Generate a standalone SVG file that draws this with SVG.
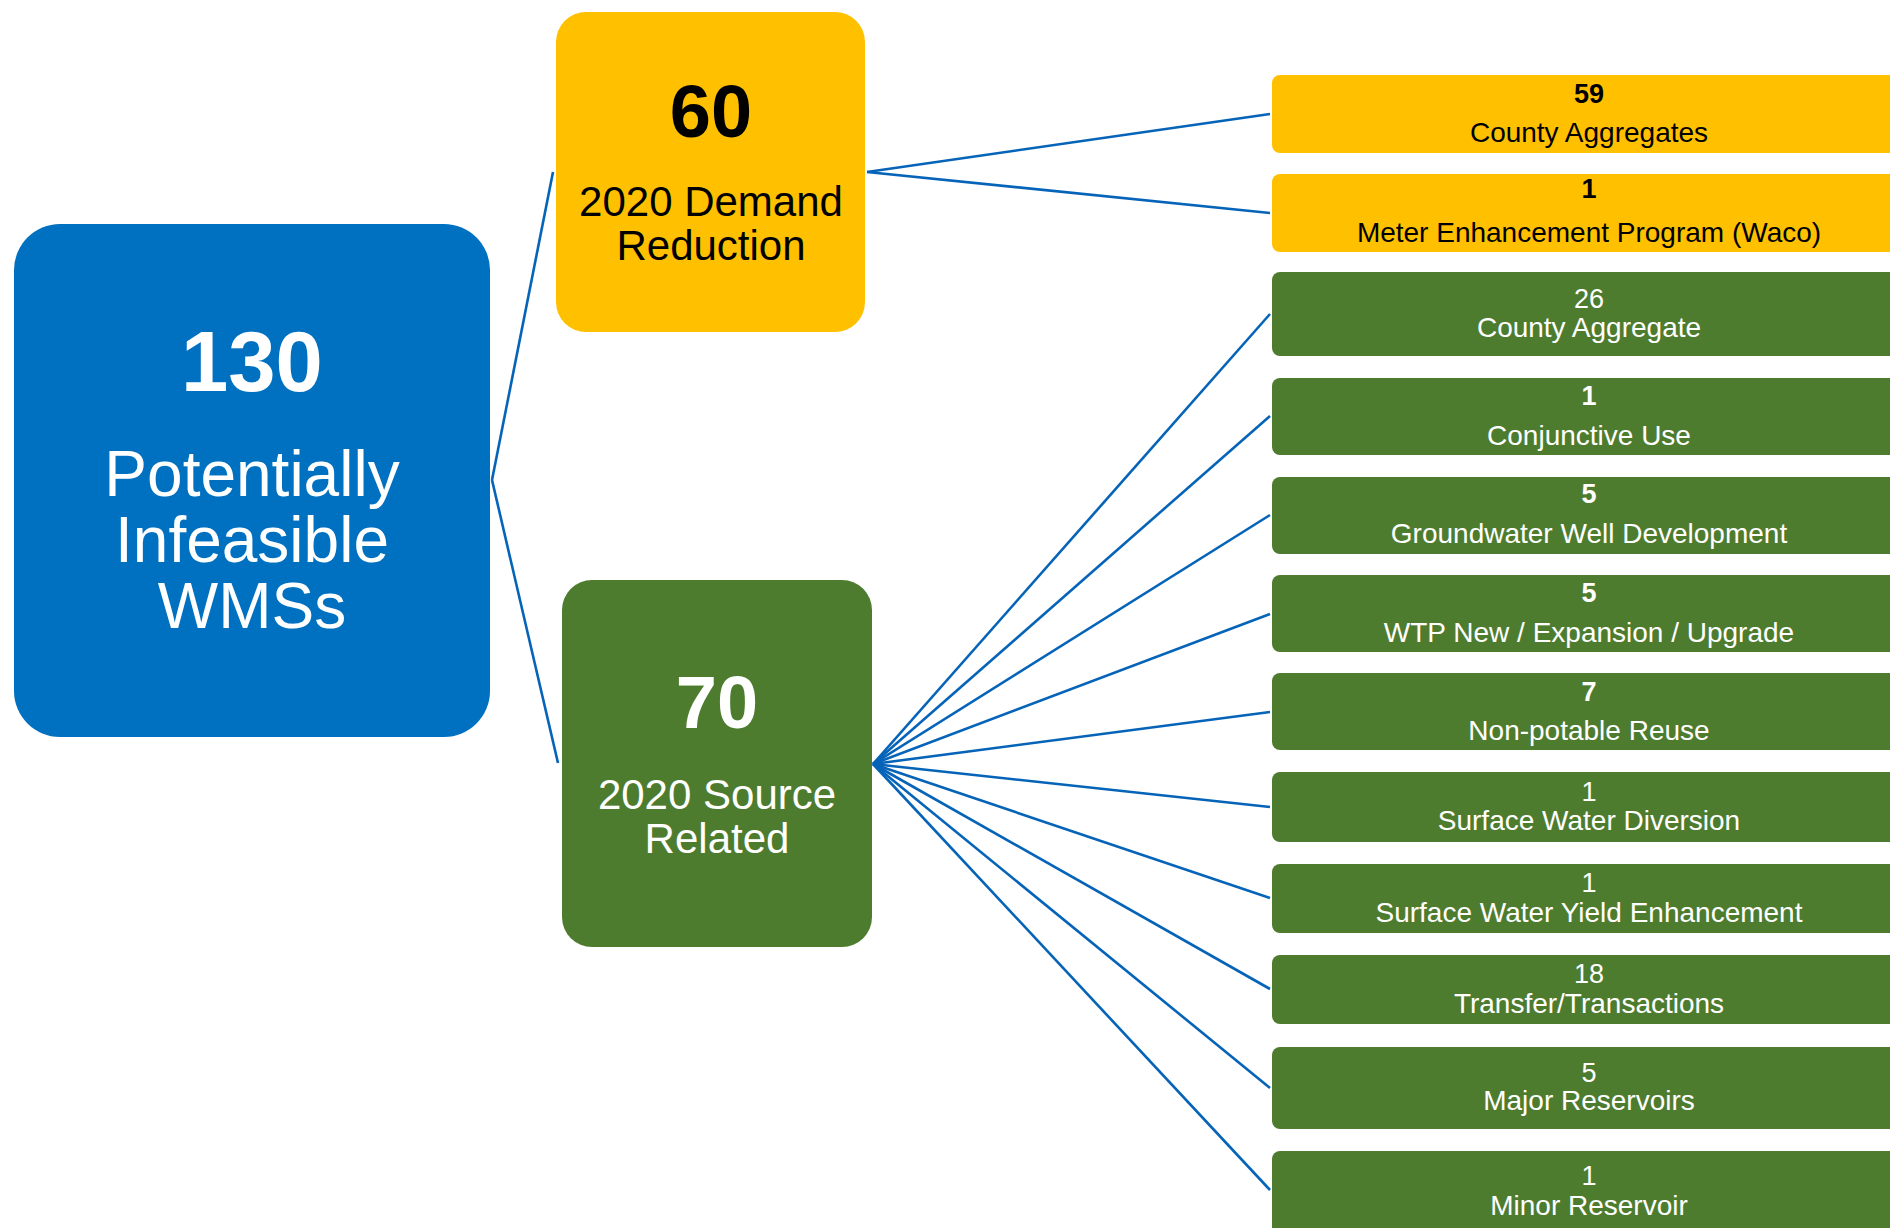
<svg xmlns="http://www.w3.org/2000/svg" width="1890" height="1228" viewBox="0 0 1890 1228">
<style>
.t{font-family:"Liberation Sans",Arial,sans-serif;text-anchor:middle}
.b{font-weight:bold}
.w{fill:#fff}
.k{fill:#000}
.y{fill:#FFC000}
.g{fill:#4E7C2F}
.conn line{stroke:#0563B8;stroke-width:2.6;fill:none}
.big{font-size:42px}
.sm{font-size:28px}
.num{font-size:27px}
</style>
<rect width="1890" height="1228" fill="#fff"/>
<g id="connectors" class="conn">
<line x1="492" y1="480" x2="553" y2="172"/>
<line x1="492" y1="480" x2="558" y2="763"/>
<line x1="867" y1="172" x2="1270" y2="114"/>
<line x1="867" y1="172" x2="1270" y2="213"/>
<line x1="873" y1="764" x2="1270" y2="314"/>
<line x1="873" y1="764" x2="1270" y2="416"/>
<line x1="873" y1="764" x2="1270" y2="515"/>
<line x1="873" y1="764" x2="1270" y2="614"/>
<line x1="873" y1="764" x2="1270" y2="712"/>
<line x1="873" y1="764" x2="1270" y2="807"/>
<line x1="873" y1="764" x2="1270" y2="898"/>
<line x1="873" y1="764" x2="1270" y2="989"/>
<line x1="873" y1="764" x2="1270" y2="1088"/>
<line x1="873" y1="764" x2="1270" y2="1190"/>
</g>
<g id="root">
<rect x="14" y="224" width="476" height="513" rx="46" fill="#0070C0"/>
<text class="t b w" x="252" y="391" font-size="85">130</text>
<text class="t w" x="252" y="496" font-size="64">Potentially</text>
<text class="t w" x="252" y="562" font-size="64">Infeasible</text>
<text class="t w" x="252" y="628" font-size="64">WMSs</text>
</g>
<g id="demand">
<rect class="y" x="556" y="12" width="309" height="320" rx="30"/>
<text class="t b k" x="711" y="137" font-size="74">60</text>
<text class="t k big" x="711" y="216">2020 Demand</text>
<text class="t k big" x="711" y="260">Reduction</text>
</g>
<g id="source">
<rect class="g" x="562" y="580" width="310" height="367" rx="30"/>
<text class="t b w" x="717" y="728" font-size="74">70</text>
<text class="t w big" x="717" y="809">2020 Source</text>
<text class="t w big" x="717" y="853">Related</text>
</g>
<g id="d1">
<rect class="y" x="1272" y="75" width="634" height="78" rx="8"/>
<text class="t b k num" x="1589" y="103">59</text>
<text class="t k sm" x="1589" y="142">County Aggregates</text>
</g>
<g id="d2">
<rect class="y" x="1272" y="174" width="634" height="78" rx="8"/>
<text class="t b k num" x="1589" y="198">1</text>
<text class="t k sm" x="1589" y="242">Meter Enhancement Program (Waco)</text>
</g>
<g id="s1">
<rect class="g" x="1272" y="272" width="634" height="84" rx="8"/>
<text class="t w num" x="1589" y="308">26</text>
<text class="t w sm" x="1589" y="337">County Aggregate</text>
</g>
<g id="s2">
<rect class="g" x="1272" y="378" width="634" height="77" rx="8"/>
<text class="t b w num" x="1589" y="405">1</text>
<text class="t w sm" x="1589" y="445">Conjunctive Use</text>
</g>
<g id="s3">
<rect class="g" x="1272" y="477" width="634" height="77" rx="8"/>
<text class="t b w num" x="1589" y="503">5</text>
<text class="t w sm" x="1589" y="543">Groundwater Well Development</text>
</g>
<g id="s4">
<rect class="g" x="1272" y="575" width="634" height="77" rx="8"/>
<text class="t b w num" x="1589" y="602">5</text>
<text class="t w sm" x="1589" y="642">WTP New / Expansion / Upgrade</text>
</g>
<g id="s5">
<rect class="g" x="1272" y="673" width="634" height="77" rx="8"/>
<text class="t b w num" x="1589" y="701">7</text>
<text class="t w sm" x="1589" y="740">Non-potable Reuse</text>
</g>
<g id="s6">
<rect class="g" x="1272" y="772" width="634" height="70" rx="8"/>
<text class="t w num" x="1589" y="801">1</text>
<text class="t w sm" x="1589" y="830">Surface Water Diversion</text>
</g>
<g id="s7">
<rect class="g" x="1272" y="864" width="634" height="69" rx="8"/>
<text class="t w num" x="1589" y="892">1</text>
<text class="t w sm" x="1589" y="922">Surface Water Yield Enhancement</text>
</g>
<g id="s8">
<rect class="g" x="1272" y="955" width="634" height="69" rx="8"/>
<text class="t w num" x="1589" y="983">18</text>
<text class="t w sm" x="1589" y="1013">Transfer/Transactions</text>
</g>
<g id="s9">
<rect class="g" x="1272" y="1047" width="634" height="82" rx="8"/>
<text class="t w num" x="1589" y="1082">5</text>
<text class="t w sm" x="1589" y="1110">Major Reservoirs</text>
</g>
<g id="s10">
<rect class="g" x="1272" y="1151" width="634" height="90" rx="8"/>
<text class="t w num" x="1589" y="1185">1</text>
<text class="t w sm" x="1589" y="1215">Minor Reservoir</text>
</g>
</svg>
